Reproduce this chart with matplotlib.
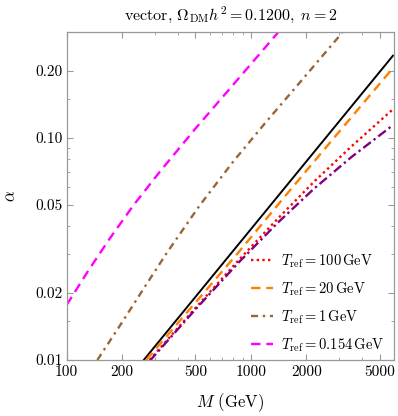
import matplotlib
matplotlib.use("Agg")
import matplotlib.pyplot as plt
from matplotlib.ticker import FixedLocator, FixedFormatter, NullFormatter

plt.rcParams["font.family"] = "cmr10"
plt.rcParams["mathtext.fontset"] = "cm"
plt.rcParams["axes.unicode_minus"] = False
plt.rcParams["axes.formatter.use_mathtext"] = True

# values
m_black = [262, 5900]
a_black = [0.0100, 0.234]

m_100 = [282, 500, 866, 1400, 2200, 3500, 5900]
a_100 = [0.0100, 0.01714, 0.02838, 0.0433, 0.0634, 0.0912, 0.1343]

m_purple = [282, 500, 866, 1400, 2200, 3500, 5900]
a_purple = [0.0099, 0.0169, 0.0277, 0.0415, 0.0590, 0.0817, 0.1140]

m_20 = [270, 850, 1600, 3000, 5900]
a_20 = [0.0100, 0.0303, 0.0570, 0.106, 0.206]

m_1 = [146.7, 200, 265, 350, 525, 800, 1200, 2000, 3120]
a_1 = [0.0100, 0.0148, 0.0213, 0.0304, 0.0494, 0.078, 0.117, 0.192, 0.296]

m_0154 = [100, 130, 170, 230, 320, 500, 800, 1400]
a_0154 = [0.0177, 0.0250, 0.0349, 0.0496, 0.0703, 0.110, 0.173, 0.297]

xticks = [100, 200, 500, 1000, 2000, 5000]
xminor = [300, 400, 600, 700, 800, 900, 3000, 4000]
yticks = [0.01, 0.02, 0.05, 0.10, 0.20]
ylabels = ["0.01", "0.02", "0.05", "0.10", "0.20"]
yminor = [0.015, 0.03, 0.04, 0.06, 0.07, 0.08, 0.09, 0.15]

fig = plt.figure(figsize=(3.98, 4.16), dpi=100)
ax = fig.add_axes([0.1676, 0.1346, 0.8231, 0.7892])

ax.plot(m_black, a_black, color="black", lw=1.4)
ax.plot(m_100, a_100, color="#ff0000", lw=1.7, linestyle=(0, (1, 1.4)),
        label=r"$T_{\rm ref} = 100\,{\rm GeV}$")
ax.plot(m_20, a_20, color="#ff8000", lw=1.7, linestyle=(0, (4, 2.5)),
        label=r"$T_{\rm ref} = 20\,{\rm GeV}$")
ax.plot(m_1, a_1, color="#996633", lw=1.7, linestyle=(0, (3, 2, 1, 2)),
        label=r"$T_{\rm ref} = 1\,{\rm GeV}$")
ax.plot(m_0154, a_0154, color="#ff00ff", lw=1.7, linestyle=(0, (4, 2.5)),
        label=r"$T_{\rm ref} = 0.154\,{\rm GeV}$")
ax.plot(m_purple, a_purple, color="#800080", lw=1.7, linestyle=(0, (4, 1.5, 1, 1.5)))

ax.set_xscale("log")
ax.set_yscale("log")
ax.set_xlim(100, 6000)
ax.set_ylim(0.01, 0.3)

ax.xaxis.set_major_locator(FixedLocator(xticks))
ax.xaxis.set_major_formatter(FixedFormatter([str(t) for t in xticks]))
ax.xaxis.set_minor_locator(FixedLocator(xminor))
ax.xaxis.set_minor_formatter(NullFormatter())
ax.yaxis.set_major_locator(FixedLocator(yticks))
ax.yaxis.set_major_formatter(FixedFormatter(ylabels))
ax.yaxis.set_minor_locator(FixedLocator(yminor))
ax.yaxis.set_minor_formatter(NullFormatter())

for s in ax.spines.values():
    s.set_color("#999999")
    s.set_linewidth(0.9)
ax.tick_params(which="both", direction="in", top=True, right=True,
               color="#999999", labelsize=11, labelcolor="black")
ax.tick_params(which="major", length=4, width=0.8)
ax.tick_params(which="minor", length=2.5, width=0.6)
ax.tick_params(axis="x", which="major", pad=3.5)
ax.tick_params(axis="y", which="major", pad=3)

ax.set_xlabel(r"$M$ (GeV)", fontsize=12, labelpad=9)
ax.set_ylabel(r"$\alpha$", fontsize=12, labelpad=12)
ax.set_title(r"vector, $\Omega_{\rm DM} h^2 = 0.1200,\ n = 2$", fontsize=11.5, pad=9)

ax.legend(loc="lower right", frameon=False, fontsize=10.5, handlelength=1.45,
          handletextpad=0.55, labelspacing=0.72, borderaxespad=0.3,
          bbox_to_anchor=(1.0, -0.012))

fig.savefig("out.png", dpi=100)
